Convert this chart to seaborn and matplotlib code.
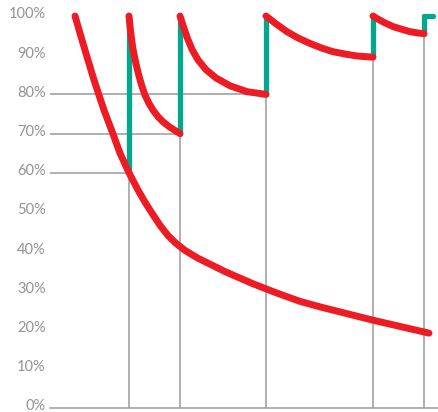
import numpy as np
import pandas as pd
import matplotlib
matplotlib.use("Agg")
import matplotlib.pyplot as plt
import matplotlib.transforms as mtransforms
import seaborn as sns

# review times (arbitrary time units) and retention right before each review
review_t = [79, 130, 216, 323, 374]
review_r = [60, 70, 80, 89.5, 95.5]
guide_levels = [60, 70, 80]  # horizontal guides drawn for first three reviews

# forgetting curve with no review
main_t = [25, 33, 43, 49, 54, 63, 70, 79, 88, 95, 102, 110, 118, 126, 135, 148, 160, 175,
          202, 225, 250, 270, 323, 379]
main_r = [100, 93, 84.5, 79.8, 76, 69.9, 65, 60, 55.6, 52.5, 49.7, 46.6, 44.0, 42.0, 40.2, 38.2, 36.7, 34.8,
          31.8, 29.5, 27.2, 25.8, 22.4, 19.1]

# curves after each review
seg_t = [
    [79, 80, 81.5, 83, 85, 87, 89, 92, 95, 99, 103, 108, 113, 119, 125, 130],
    [130, 133, 137, 142, 148, 156, 166, 180, 197, 216],
    [216, 221, 226, 237, 248, 260, 272, 283, 295, 307, 323],
    [323, 328, 333, 343, 352, 360, 367, 374],
]
seg_r = [
    [100, 97.4, 94.2, 91.6, 89, 86.7, 84.7, 82.0, 79.8, 77.7, 76, 74.3, 73, 71.8, 70.8, 70],
    [100, 97.6, 94.6, 91.5, 88.8, 86.3, 84.2, 82.2, 80.7, 80],
    [100, 99.0, 98.0, 96.0, 94.4, 93.0, 91.8, 90.9, 90.3, 89.8, 89.5],
    [100, 99.2, 98.5, 97.3, 96.6, 96.0, 95.7, 95.5],
]
ticks = [0, 10, 20, 30, 40, 50, 60, 70, 80, 90, 100]

red = "#ED1C24"
green = "#00A88E"
gray = "#9a9a9a"

sns.set_style("white")
plt.rcParams['font.family'] = ['Lato', 'DejaVu Sans']

fig = plt.figure(figsize=(4.39, 4.12), dpi=100)
ax = fig.add_axes([50/439, 4/412, 389/439, 392/412])

# gray guides
for t, r in zip(review_t, review_r):
    ax.plot([t, t], [0, r], color=gray, lw=1.1, zorder=1)
for t, r in zip(review_t, guide_levels):
    ax.plot([0, t], [r, r], color=gray, lw=1.1, zorder=1)

# green review jumps
for t, r in zip(review_t, review_r):
    ax.plot([t, t], [r, 100], color=green, lw=3.8, solid_capstyle='round', zorder=2, clip_on=False)
ax.plot([review_t[-1], review_t[-1] + 9], [100, 100], color=green, lw=3.8,
        solid_capstyle='round', zorder=2, clip_on=False)

# red curves
df = pd.DataFrame({"t": main_t, "r": main_r})
sns.lineplot(data=df, x="t", y="r", ax=ax, color=red, lw=5, zorder=3,
             solid_capstyle='round', solid_joinstyle='round', clip_on=False)
for ts, rs in zip(seg_t, seg_r):
    d = pd.DataFrame({"t": ts, "r": rs})
    sns.lineplot(data=d, x="t", y="r", ax=ax, color=red, lw=5, zorder=3,
                 solid_capstyle='round', solid_joinstyle='round', clip_on=False)

ax.set_xlim(0, 389)
ax.set_ylim(0, 100)
ax.set_xticks([])
ax.set_yticks(ticks)
ax.set_yticklabels([f"{v}%" for v in ticks], color="#939393", fontsize=10.5)
ax.tick_params(axis='y', length=0, pad=3)
shift = mtransforms.ScaledTranslation(0, 3/100, fig.dpi_scale_trans)
for lab in ax.get_yticklabels():
    lab.set_transform(lab.get_transform() + shift)
ax.set_xlabel("")
ax.set_ylabel("")
for s in ['top', 'right', 'left']:
    ax.spines[s].set_visible(False)
ax.spines['bottom'].set_color(gray)
ax.spines['bottom'].set_linewidth(1.1)

fig.savefig("out.png", dpi=100)
